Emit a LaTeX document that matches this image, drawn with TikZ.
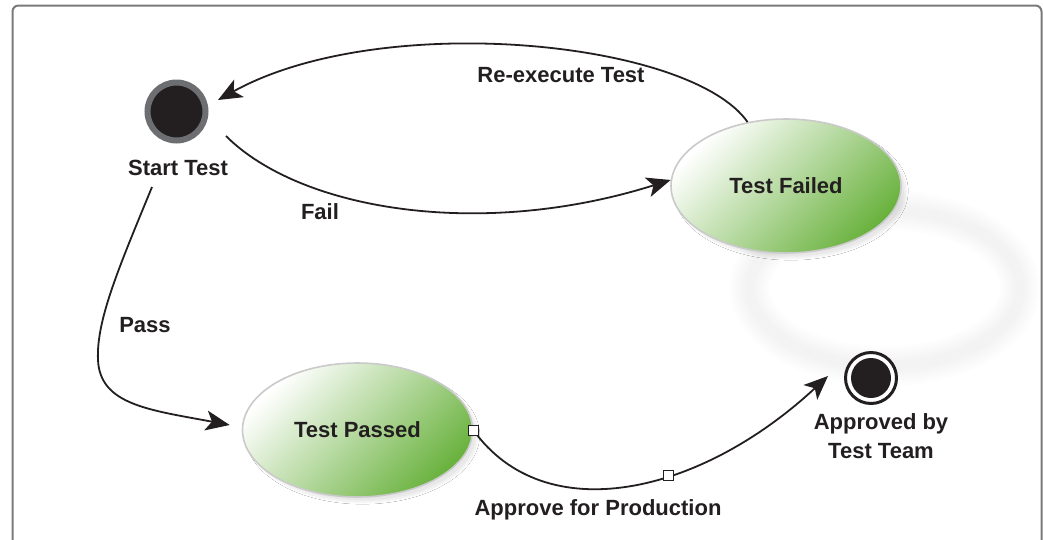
\documentclass[tikz,border=0pt]{standalone}
\usepackage{fontspec}
\setmainfont{Liberation Sans}
\usetikzlibrary{arrows.meta,shapes.geometric,shadows.blur}

\definecolor{ink}{HTML}{231F20}
\definecolor{ring}{HTML}{6D6E71}
\definecolor{leaf}{HTML}{6AB23E}
\definecolor{rim}{HTML}{CACACA}
\definecolor{framegray}{HTML}{7A7A7A}

\begin{document}
\begin{tikzpicture}[x=1pt,y=-1pt,
  lbl/.style={font=\fontsize{22}{29}\selectfont\bfseries, text=ink, inner sep=0pt, align=center},
  state/.style={ellipse, minimum width=230pt, minimum height=134pt, draw=rim, line width=1.6pt,
    top color=white, bottom color=leaf, shading angle=45, lbl,
    blur shadow={shadow xshift=5pt, shadow yshift=-5pt, shadow opacity=9, shadow blur steps=10}},
  startdot/.style={circle, draw=ring, fill=ink, line width=6pt, minimum size=58pt, inner sep=0pt},
  enddot/.style={circle, draw=ink, fill=white, line width=3pt, minimum size=51pt, inner sep=0pt,
    path picture={\fill[ink] (path picture bounding box.center) circle (20pt);}},
  edge/.style={draw=ink, line width=1.8pt, -{Stealth[length=24pt,width=20pt,inset=6pt]}},
  handle/.style={rectangle, draw=ink, fill=white, line width=0.8pt, minimum size=10pt, inner sep=0pt}
]
  % canvas and frame
  \fill[white] (0,0) rectangle (1043,539);
  \useasboundingbox (0,0) rectangle (1043,539);
  \draw[framegray, line width=2pt, rounded corners=6pt] (12.5,5.5) rectangle (1041.5,600);

  % faint background ring, soft edges from stacked translucent strokes
  \foreach \w in {40,34,28,22,16,10}
    \draw[black, opacity=0.006, line width=\w pt] (885,288) ellipse [x radius=135, y radius=78];

  % states
  \node[startdot] (start) at (176.5,111.5) {};
  \node[lbl] (startlbl) at (178,168) {Start Test};
  \node[state] (failed) at (786,186) {Test Failed};
  \node[state] (passed) at (357.5,430) {Test Passed};
  \node[enddot] (final) at (871,378) {};
  \node[lbl] (finallbl) at (881,436.5) {Approved by\\Test Team};

  % transitions
  \draw[edge] (failed.121) .. controls (690,40) and (380,10) .. ([shift={(41.5,-11.5)}]start.center);
  \draw[edge] ([shift={(49.5,24.5)}]start.center) .. controls (300,210) and (480,240) .. (failed.177);
  \draw[edge] ([shift={(-26,19)}]startlbl.center) .. controls (120,265) and (96,320) .. (98,360)
                .. controls (100,405) and (150,410) .. ([shift={(-12,-5)}]passed.west);
  \draw[edge] (passed.east) .. controls (545,530) and (700,495) .. ([shift={(-16,-2)}]final.west)
                node[handle, pos=0.6] (h2) {};
  \node[handle] (h1) at (passed.east) {};

  % transition labels
  \node[lbl] (reexec) at (561,75) {Re-execute Test};
  \node[lbl] (fail) at (320,212) {Fail};
  \node[lbl] (pass) at (145,325) {Pass};
  \node[lbl] (approve) at (598,510) {Approve for Production};
\end{tikzpicture}
\end{document}
